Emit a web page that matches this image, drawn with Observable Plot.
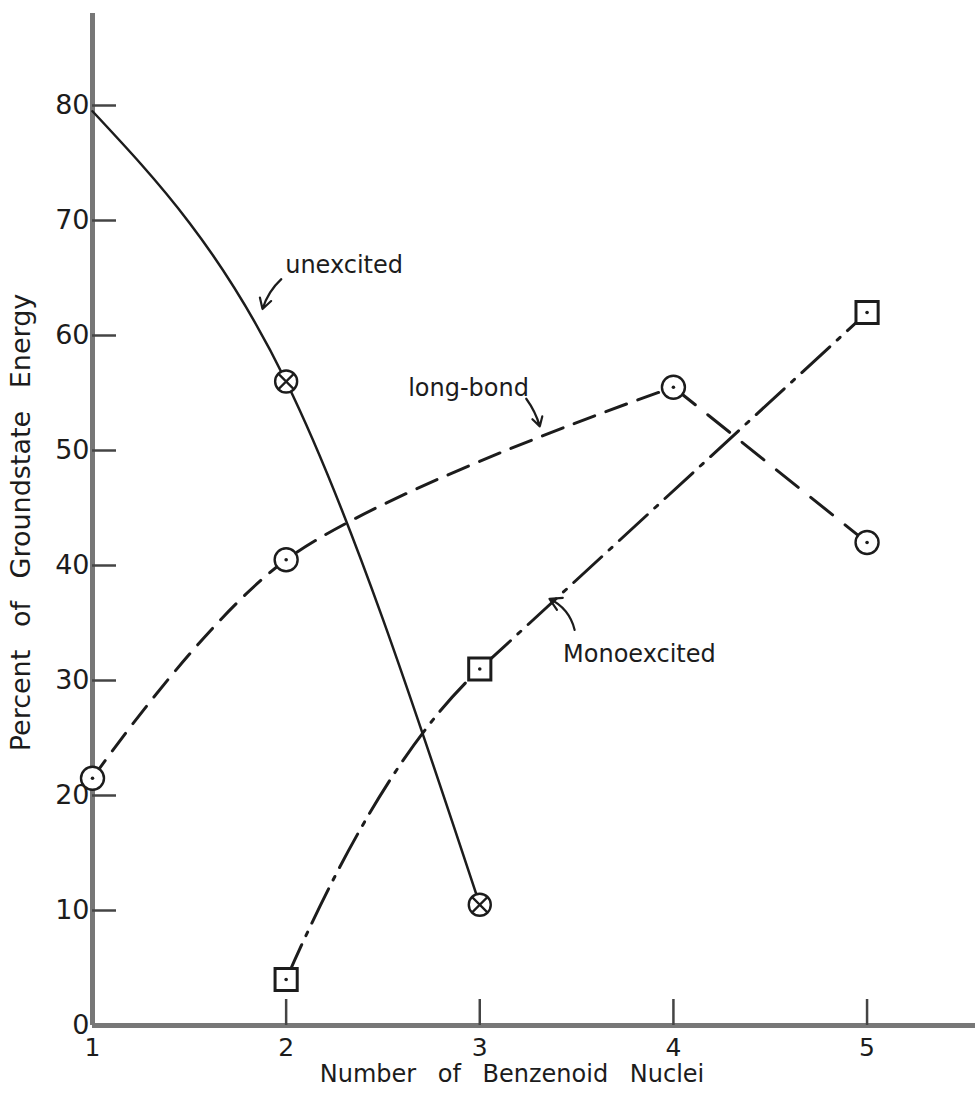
<!DOCTYPE html>
<html>
<head>
<meta charset="utf-8">
<script src="https://cdn.jsdelivr.net/npm/d3@7"></script>
<script src="https://cdn.jsdelivr.net/npm/@observablehq/plot@0.6"></script>
<style>
  html, body { margin: 0; padding: 0; background: #fff; }
  #chart svg { display: block; }
</style>
</head>
<body>
<div id="chart"></div>
<script>
// Share of ground-state energy carried by each structure type,
// against the number of benzenoid nuclei in the molecule.
const unexcitedX = [1, 2, 3];
const unexcitedY = [79.5, 56, 10.5];

const longBondX = [1, 2, 4, 5];
const longBondY = [21.5, 40.5, 55.5, 42];

const monoX = [2, 3, 5];
const monoY = [4, 31, 62];

const xTicks = [1, 2, 3, 4, 5];
const yTicks = [0, 10, 20, 30, 40, 50, 60, 70, 80];

// Curve labels and their pointer arrows (data coordinates)
const noteText = ["unexcited", "long-bond", "Monoexcited"];
const noteX = [1.995, 2.63, 3.43];
const noteY = [66.1, 55.4, 32.3];

const pointer1 = [{x1: 1.975, y1: 64.9, x2: 1.878, y2: 62.3}];   // unexcited
const pointer2 = [{x1: 3.24, y1: 54.5, x2: 3.31, y2: 52.1}];      // long-bond
const pointer3 = [{x1: 3.49, y1: 34.4, x2: 3.36, y2: 37.1}];      // Monoexcited

const rows = (xs, ys) => xs.map((x, i) => ({x, y: ys[i]}));
const unexcited = rows(unexcitedX, unexcitedY);
const longBond = rows(longBondX, longBondY);
const mono = rows(monoX, monoY);
const notes = noteText.map((text, i) => ({text, x: noteX[i], y: noteY[i]}));

// Curve factory: the first segment bends in as a quadratic that meets the
// next segment tangentially; the remaining segments are straight.
function leadIn(context) {
  let pts = [];
  return {
    areaStart() {}, areaEnd() {},
    lineStart() { pts = []; },
    point(x, y) { pts.push([+x, +y]); },
    lineEnd() {
      if (!pts.length) return;
      const [p0, p1, ...rest] = pts;
      context.moveTo(p0[0], p0[1]);
      if (!p1) return;
      if (rest.length) {
        const p2 = rest[0];
        const cx = p1[0] - (p2[0] - p1[0]) * 0.25;
        const cy = p1[1] - (p2[1] - p1[1]) * 0.25;
        context.quadraticCurveTo(cx, cy, p1[0], p1[1]);
      } else {
        context.lineTo(p1[0], p1[1]);
      }
      for (const p of rest) context.lineTo(p[0], p[1]);
    }
  };
}

const ink = "#1c1c1c";
const axisInk = "#777";
const font = "'DejaVu Sans', sans-serif";

const chart = Plot.plot({
  width: 975,
  height: 1095,
  marginLeft: 92,
  marginRight: 0,
  marginTop: 13,
  marginBottom: 70,
  style: {fontFamily: font, color: ink, background: "#fff", wordSpacing: "14px"},
  x: {domain: [1, 5.56]},
  y: {domain: [0, 88]},
  marks: [
    // heavy axis lines
    Plot.ruleX([1], {stroke: axisInk, strokeWidth: 5}),
    Plot.ruleY([0], {stroke: axisInk, strokeWidth: 5}),

    // inward tick marks
    Plot.axisY({ticks: yTicks.filter(d => d > 0), tickSize: -24, tickFormat: () => "",
                stroke: "#444", strokeWidth: 2.5}),
    Plot.axisX({ticks: xTicks.filter(d => d > 1), tickSize: -26, tickFormat: () => "",
                stroke: "#444", strokeWidth: 2.5}),

    // tick labels
    Plot.axisY({ticks: yTicks, tickSize: 0, tickPadding: 3, fontSize: 27,
                tickFormat: d3.format("d"), label: null, fill: ink,
                style: {letterSpacing: "2px"}}),
    Plot.axisX({ticks: xTicks, tickSize: 0, tickPadding: 13, fontSize: 25,
                tickFormat: d3.format("d"), label: null, fill: ink}),

    // axis titles
    Plot.text(["Number of Benzenoid Nuclei"], {frameAnchor: "bottom", dy: 56, dx: -22,
               textAnchor: "middle", fontSize: 24, fill: ink}),
    Plot.text(["Percent of Groundstate Energy"], {frameAnchor: "left", dx: -71, dy: 3,
               textAnchor: "middle", rotate: -90, fontSize: 27, fill: ink}),

    // curves
    Plot.line(unexcited, {x: "x", y: "y", curve: "monotone-x", stroke: ink, strokeWidth: 2.5}),
    Plot.line(longBond.slice(0, 3), {x: "x", y: "y", curve: "catmull-rom", stroke: ink,
              strokeWidth: 3, strokeDasharray: "22,12"}),
    Plot.line(longBond.slice(2), {x: "x", y: "y", stroke: ink, strokeWidth: 3,
              strokeDasharray: "28,16"}),
    Plot.line(mono, {x: "x", y: "y", curve: leadIn, stroke: ink, strokeWidth: 3,
              strokeDasharray: "38,10,4,10"}),

    // markers: crossed circle, dotted circle, dotted square
    Plot.dot(unexcited.slice(1), {x: "x", y: "y", r: 11, fill: "#fff", stroke: ink, strokeWidth: 2.4}),
    Plot.dot(unexcited.slice(1), {x: "x", y: "y", symbol: "times", r: 7, stroke: ink, strokeWidth: 2.2}),
    Plot.dot(longBond, {x: "x", y: "y", r: 11.5, fill: "#fff", stroke: ink, strokeWidth: 2.4}),
    Plot.dot(longBond, {x: "x", y: "y", r: 1.8, fill: ink}),
    Plot.dot(mono, {x: "x", y: "y", symbol: "square", r: 12.5, fill: "#fff", stroke: ink, strokeWidth: 3}),
    Plot.dot(mono, {x: "x", y: "y", r: 1.8, fill: ink}),

    // curve labels with pointers
    Plot.text(notes, {x: "x", y: "y", text: "text", textAnchor: "start", fontSize: 24, fill: ink}),
    Plot.arrow(pointer1, {x1: "x1", y1: "y1", x2: "x2", y2: "y2", bend: -15, headLength: 12,
               stroke: ink, strokeWidth: 2.2}),
    Plot.arrow(pointer2, {x1: "x1", y1: "y1", x2: "x2", y2: "y2", bend: 10, headLength: 12,
               stroke: ink, strokeWidth: 2.2}),
    Plot.arrow(pointer3, {x1: "x1", y1: "y1", x2: "x2", y2: "y2", bend: -25, headLength: 12,
               stroke: ink, strokeWidth: 2.2})
  ]
});

document.getElementById("chart").append(chart);
</script>
</body>
</html>
